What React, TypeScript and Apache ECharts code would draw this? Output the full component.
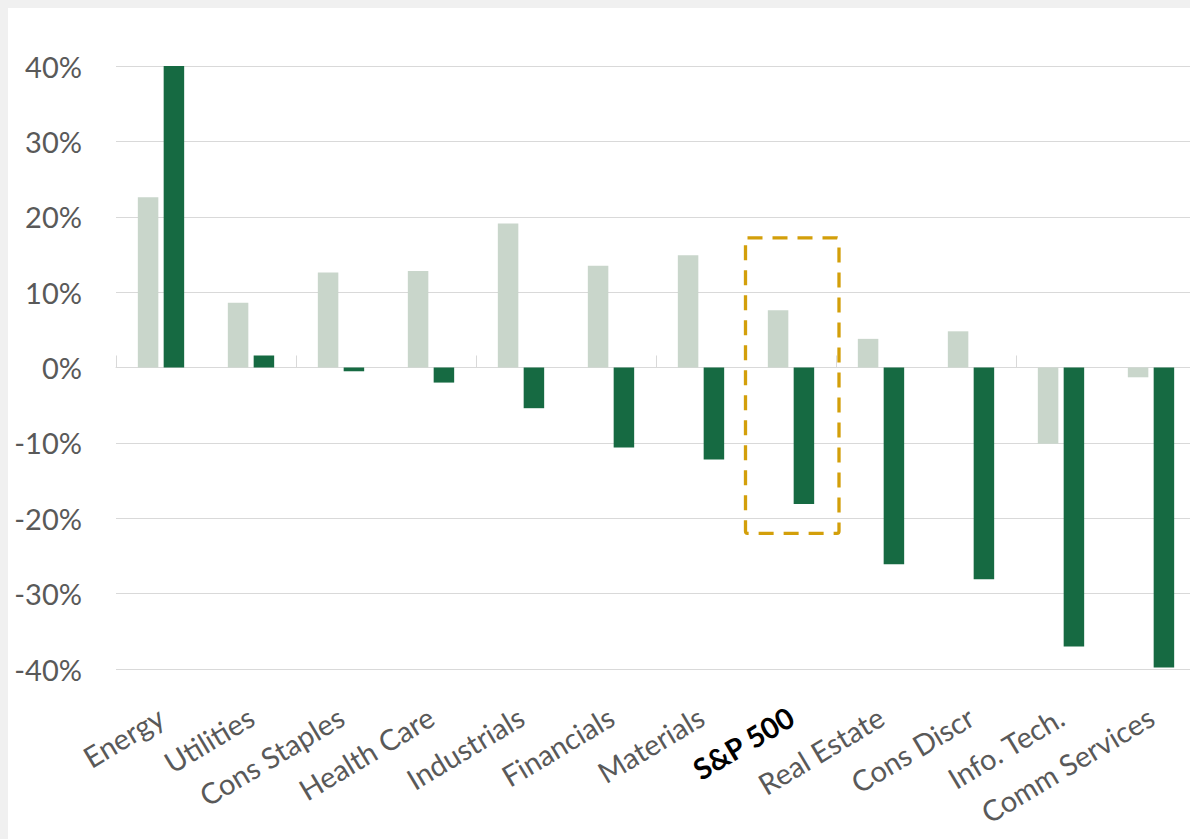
import React, { useEffect, useRef } from "react";
import * as echarts from "echarts";

const categories = [
  "Energy",
  "Utilities",
  "Cons Staples",
  "Health Care",
  "Industrials",
  "Financials",
  "Materials",
  "S&P 500",
  "Real Estate",
  "Cons Discr",
  "Info. Tech.",
  "Comm Services",
];
const priorYear = [22.6, 8.6, 12.6, 12.8, 19.1, 13.5, 14.9, 7.6, 3.8, 4.8, -10.1, -1.3];
const yearToDate = [40.0, 1.6, -0.5, -2.0, -5.4, -10.6, -12.2, -18.1, -26.1, -28.1, -37.0, -39.8];
const yTicks = { min: -40, max: 40, interval: 10 };
const highlightCategory = "S&P 500";
const highlightRange = [17.2, -22.0];

export default function App() {
  const ref = useRef<HTMLDivElement>(null);
  useEffect(() => {
    const chart = echarts.init(ref.current!, null, { renderer: "svg" });
    const font = 'Lato, "Noto Sans", sans-serif';
    chart.setOption({
      animation: false,
      backgroundColor: "#ffffff",
      grid: {
        left: 108,
        width: 1080,
        top: 58,
        height: 603,
        containLabel: false,
        outerBoundsMode: "none",
      },
      xAxis: [
        {
          type: "category",
          data: categories,
          position: "bottom",
          axisLine: { show: false, onZero: false },
          axisTick: { show: false },
          axisLabel: {
            interval: 0,
            rotate: 31,
            margin: 45,
            color: "#595959",
            fontSize: 29,
            fontFamily: font,
            formatter: (v: string) => (v === highlightCategory ? `{hl|${v}}` : v),
            rich: {
              hl: { fontWeight: "bold", color: "#000000", fontSize: 29, fontFamily: font },
            },
          },
        },
        {
          type: "category",
          data: categories,
          position: "bottom",
          axisLine: { show: true, onZero: true, lineStyle: { color: "#d9d9d9", width: 1 } },
          axisTick: { show: true, inside: true, length: 12, lineStyle: { color: "#d9d9d9" } },
          axisLabel: { show: false },
        },
      ],
      yAxis: {
        type: "value",
        min: yTicks.min,
        max: yTicks.max,
        interval: yTicks.interval,
        axisLine: { show: false },
        axisTick: { show: false },
        splitLine: { lineStyle: { color: "#d9d9d9", width: 1 } },
        axisLabel: {
          formatter: "{value}%",
          color: "#595959",
          fontSize: 29,
          fontFamily: font,
          margin: 34,
        },
      },
      series: [
        {
          type: "bar",
          data: priorYear,
          barWidth: 20.5,
          barGap: "26%",
          itemStyle: { color: "#c9d6cb" },
        },
        {
          type: "bar",
          data: yearToDate,
          barWidth: 20.5,
          itemStyle: { color: "#166a42" },
        },
      ],
    });

    const idx = categories.indexOf(highlightCategory);
    const top = chart.convertToPixel({ xAxisIndex: 0, yAxisIndex: 0 }, [idx, highlightRange[0]]) as number[];
    const bot = chart.convertToPixel({ xAxisIndex: 0, yAxisIndex: 0 }, [idx, highlightRange[1]]) as number[];
    chart.setOption({
      graphic: [
        {
          type: "rect",
          z: 100,
          shape: { x: top[0] - 45.5, y: top[1], width: 93.5, height: bot[1] - top[1], r: 2 },
          style: { fill: "none", stroke: "#D39F0A", lineWidth: 3.3, lineDash: [15, 10] },
        },
      ],
    });
    return () => chart.dispose();
  }, []);

  return (
    <div style={{ position: "fixed", left: 0, top: 0, right: 0, bottom: 0, background: "#f0f0f0" }}>
      <div
        ref={ref}
        style={{ position: "absolute", left: 8, top: 8, width: 1182, height: 831, background: "#ffffff" }}
      />
    </div>
  );
}
